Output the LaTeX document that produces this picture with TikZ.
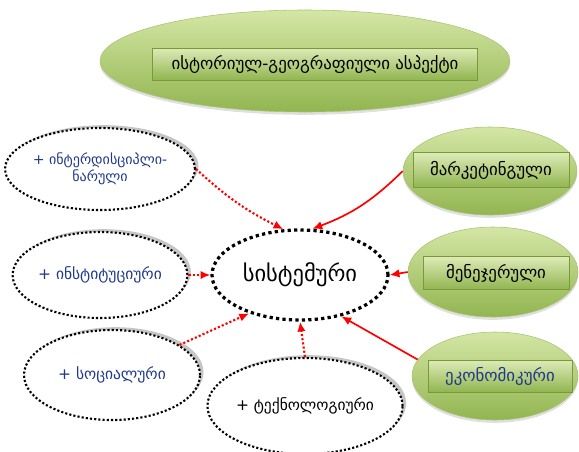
\documentclass[tikz,border=0pt]{standalone}
\usepackage{fontspec}
\setmainfont{DejaVu Sans}
\usetikzlibrary{shapes.geometric,arrows.meta,shadows}

\definecolor{grlight}{HTML}{D4E6A5}
\definecolor{grdark}{HTML}{92B550}
\definecolor{grline}{HTML}{7A9A3A}
\definecolor{navy}{HTML}{1F3A8A}

\begin{document}
\begin{tikzpicture}[
  font=\fontsize{11}{13}\selectfont,
  oval/.style={ellipse, inner sep=0pt, align=center},
  green/.style={oval, top color=grlight, bottom color=grdark, draw=grdark!80,
    drop shadow={shadow xshift=0pt, shadow yshift=-2pt, opacity=.25}},
  tag/.style={draw=grline, top color=grlight!80, bottom color=grdark,
    inner sep=0pt, align=center, font=\fontsize{12}{14}\selectfont},
  aspect/.style={oval, draw, fill=white, text=navy, line width=1.5pt,
    dash pattern=on 1.5pt off 1.5pt,
    general shadow={fill=gray!45, shadow xshift=2.5pt, shadow yshift=2pt}},
  core/.style={oval, draw, line width=2.3pt, dash pattern=on 2.3pt off 2.3pt},
  dotarr/.style={-{Latex[length=7pt,width=6pt]}, red, line width=1.5pt,
    dash pattern=on 1.5pt off 1.5pt},
  arr/.style={-{Latex[length=7pt,width=6pt]}, red, line width=1.2pt}
]
\useasboundingbox (0,0) rectangle (14.475,11.275);

% ზედა ოვალი
\node[green, minimum width=10.25cm, minimum height=2.55cm] (top) at (7.625,9.75) {};
\node[tag, minimum width=8.125cm, minimum height=0.8cm]
  (topt) at (7.875,9.675) {ისტორიულ-გეოგრაფიული ასპექტი};

% ცენტრი
\node[core, minimum width=4.4cm, minimum height=2.25cm, font=\fontsize{16}{18}\selectfont]
  (sys) at (7.5,4.4) {სისტემური};

% მარცხენა ოვალები
\node[aspect, minimum width=4.35cm, minimum height=2.05cm, font=\fontsize{10}{12}\selectfont]
  (intd) at (2.5,7.05) {+ ინტერდისციპლი-\\ნარული};
\node[aspect, minimum width=4.35cm, minimum height=2.15cm] (inst) at (2.5,4.4)
  {+ ინსტიტუციური};
\node[aspect, minimum width=4.4cm, minimum height=2.25cm] (soc) at (2.8,1.9)
  {+ სოციალური};
\node[aspect, minimum width=4.4cm, minimum height=2.4cm, text=black] (tech) at (7.625,1.125)
  {+ ტექნოლოგიური};

% მარჯვენა ოვალები
\node[green, minimum width=4.35cm, minimum height=2.2cm] (mark) at (12.25,7.0) {};
\node[tag, minimum width=3.9cm, minimum height=0.875cm] (markt) at (12.275,7.025)
  {მარკეტინგული};
\node[green, minimum width=4.25cm, minimum height=2.25cm] (man) at (12.325,4.475) {};
\node[tag, minimum width=3.65cm, minimum height=0.83cm] (mant) at (12.4,4.45)
  {მენეჯერული};
\node[green, minimum width=4.15cm, minimum height=2.2cm] (eco) at (12.375,1.875) {};
\node[tag, minimum width=3.6cm, minimum height=0.8cm, text=navy] (ecot) at (12.5,1.875)
  {ეკონომიკური};

% წერტილოვანი ისრები
\draw[dotarr] (intd.east) to[bend right=8] (sys.110);
\draw[dotarr] (inst.east) -- (sys.west);
\draw[dotarr] (soc.24) -- (sys.217);
\draw[dotarr] (tech.north) -- (sys.south);

% უწყვეტი ისრები
\draw[arr] (mark.west) to[bend left=12] (sys.75);
\draw[arr] (man.west) -- (sys.east);
\draw[arr] (eco.168) -- (sys.-45);

\end{tikzpicture}
\end{document}
